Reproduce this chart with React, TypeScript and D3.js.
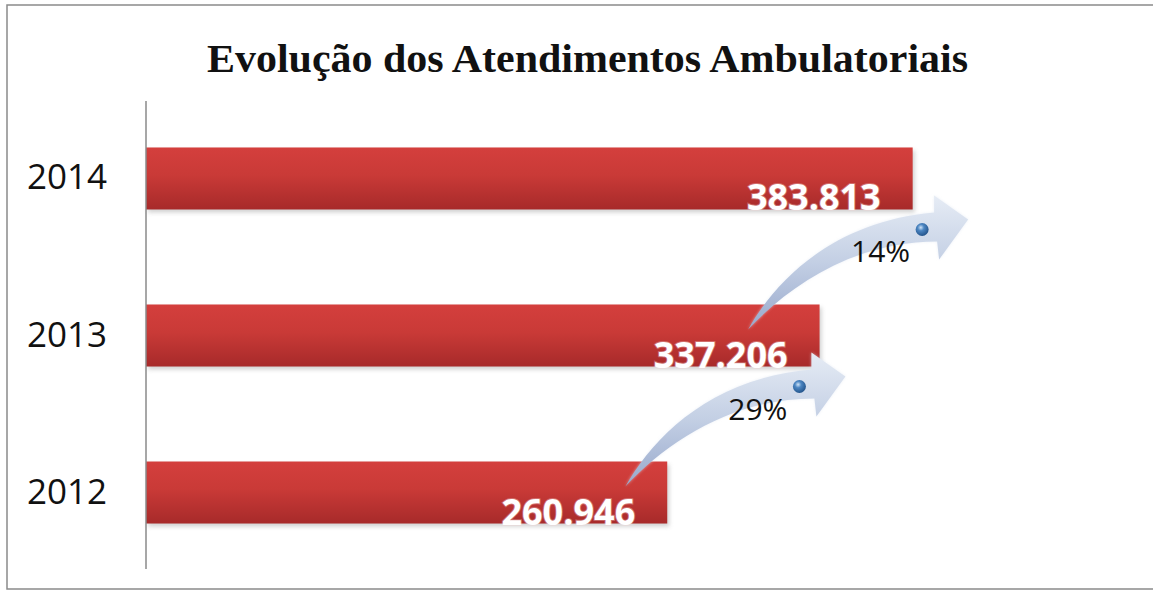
import React from "react";
import * as d3 from "d3";

const categories = ["2014", "2013", "2012"];
const values = [383813, 337206, 260946];
const valueLabels = ["383.813", "337.206", "260.946"];
// growth annotations: from category (older) to category (newer)
const growthFrom = ["2013", "2012"];
const growthTo = ["2014", "2013"];
const growthLabels = ["14%", "29%"];
const title = "Evolução dos Atendimentos Ambulatoriais";

const W = 1153;
const H = 591;

export default function App() {
  const x = d3.scaleLinear().domain([0, 400000]).range([146, 945]);
  const y = d3
    .scaleBand<string>()
    .domain(categories)
    .range([101, 570])
    .paddingInner(0.605)
    .paddingOuter(0.296);
  const bw = y.bandwidth();
  const valOf = (c: string) => values[categories.indexOf(c)];

  // arrow shape relative to tip (0,0)
  const arrowPath = (tx: number, ty: number) => {
    const p = d3.path();
    const P = (dx: number, dy: number): [number, number] => [tx + dx, ty + dy];
    const tail = P(-220, 110);
    p.moveTo(...tail);
    const c1 = P(-193, 62), c2 = P(-136, 2), st = P(-34, -7);
    p.bezierCurveTo(c1[0], c1[1], c2[0], c2[1], st[0], st[1]);
    p.lineTo(...P(-34, -24));
    p.lineTo(...P(0, 0));
    p.lineTo(...P(-29, 40));
    p.lineTo(...P(-31, 22));
    const d1 = P(-110, 22), d2 = P(-175, 62);
    p.bezierCurveTo(d1[0], d1[1], d2[0], d2[1], tail[0], tail[1]);
    p.closePath();
    return p.toString();
  };

  return (
    <svg
      width={W}
      height={H}
      style={{ position: "absolute", left: 0, top: 0, background: "#fff" }}
    >
      <defs>
        <linearGradient id="barGrad" x1="0" y1="0" x2="0" y2="1">
          <stop offset="0" stopColor="#d43f3d" />
          <stop offset="0.45" stopColor="#c93a37" />
          <stop offset="1" stopColor="#a72a2a" />
        </linearGradient>
        <linearGradient id="arrowGrad" x1="0" y1="0" x2="0" y2="1">
          <stop offset="0" stopColor="#e6ecf5" />
          <stop offset="0.5" stopColor="#c3cfe4" />
          <stop offset="1" stopColor="#98a9cc" />
        </linearGradient>
        <radialGradient id="sphere" cx="0.4" cy="0.35" r="0.7">
          <stop offset="0" stopColor="#cfe3f7" />
          <stop offset="0.35" stopColor="#4c86c2" />
          <stop offset="1" stopColor="#1f4f86" />
        </radialGradient>
        <filter id="shadow" x="-5%" y="-20%" width="110%" height="160%">
          <feGaussianBlur stdDeviation="2" />
        </filter>
        <filter id="glow" x="-10%" y="-30%" width="120%" height="160%">
          <feGaussianBlur stdDeviation="1.5" />
        </filter>
      </defs>

      {/* chart border */}
      <rect x={7} y={5} width={W + 100} height={584} fill="none" stroke="#8a8a8a" strokeWidth={1.5} />

      {/* title */}
      <text
        x={207}
        y={72}
        textLength={761}
        lengthAdjust="spacingAndGlyphs"
        fontFamily="'Liberation Serif', 'Times New Roman', serif"
        fontWeight="bold"
        fontSize={41}
        fill="#111"
      >
        {title}
      </text>

      {/* bar shadows */}
      {categories.map((c, i) => (
        <rect
          key={"s" + c}
          x={x(0) + 2}
          y={(y(c) as number) + 3}
          width={x(values[i]) - x(0)}
          height={bw}
          fill="#9a9a9a"
          opacity={0.45}
          filter="url(#shadow)"
        />
      ))}

      {/* bars */}
      {categories.map((c, i) => (
        <rect
          key={c}
          x={x(0)}
          y={y(c) as number}
          width={x(values[i]) - x(0)}
          height={bw}
          fill="url(#barGrad)"
        />
      ))}

      {/* axis line */}
      <line x1={146} x2={146} y1={101} y2={569} stroke="#8a8a8a" strokeWidth={1.5} />

      {/* category labels */}
      {categories.map((c) => (
        <text
          key={"l" + c}
          x={107}
          y={(y(c) as number) + bw / 2 + 11}
          textAnchor="end"
          fontFamily="'Open Sans', sans-serif"
          fontSize={35}
          fill="#111"
        >
          {c}
        </text>
      ))}

      {/* arrows */}
      {growthTo.map((c, i) => {
        const tx = (x(valOf(c)) + x(valOf(growthFrom[i]))) / 2 + 102;
        const ty = (y(c) as number) + bw + 10;
        return (
          <g key={"a" + i}>
            <path d={arrowPath(tx, ty)} fill="#dfe6f2" opacity={0.6} filter="url(#glow)" />
            <path d={arrowPath(tx, ty)} fill="url(#arrowGrad)" />
            <circle cx={tx - 46} cy={ty + 10} r={6.5} fill="url(#sphere)" />
            <text
              x={tx - 58}
              y={ty + 43}
              textAnchor="end"
              fontFamily="'Open Sans', sans-serif"
              fontSize={30}
              fill="#111"
            >
              {growthLabels[i]}
            </text>
          </g>
        );
      })}

      {/* value labels */}
      {categories.map((c, i) => (
        <g key={"v" + c}>
          <text
            x={x(values[i]) - 32}
            y={(y(c) as number) + bw + 1}
            textAnchor="end"
            fontFamily="'Open Sans', sans-serif"
            fontWeight="bold"
            fontSize={36}
            fill="#ffffff"
            stroke="#f3d6d6"
            strokeWidth={2}
            strokeOpacity={0.35}
            paintOrder="stroke"
          >
            {valueLabels[i]}
          </text>
        </g>
      ))}
    </svg>
  );
}
